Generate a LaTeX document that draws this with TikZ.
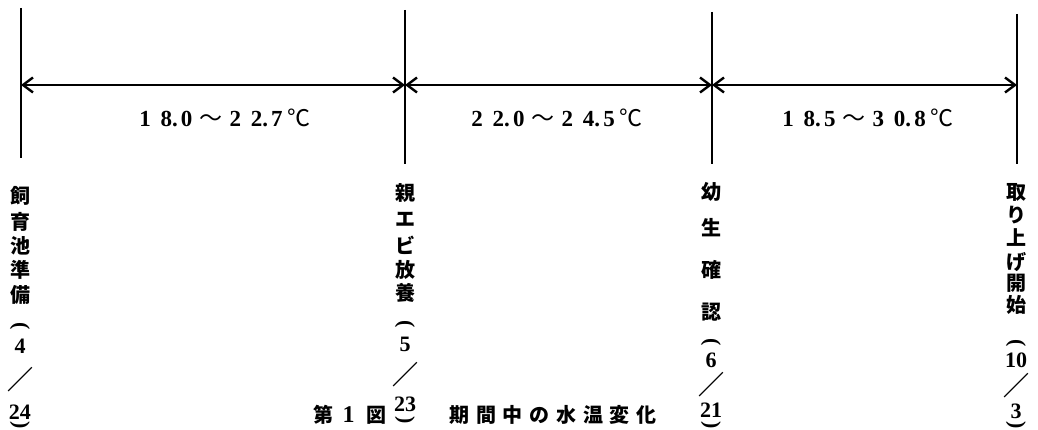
\documentclass[tikz,border=0pt]{standalone}
\usepackage{fontspec}
\setmainfont{Liberation Serif}
\newfontfamily\jp{Noto Sans CJK JP}
\usetikzlibrary{arrows.meta}
\newcommand\capsp{\hspace{6.7pt}}
\newcommand\tgap[1]{\hspace{#1pt}}
\begin{document}
\begin{tikzpicture}[x=1pt,y=-1pt,
  post/.style={line width=2.6pt},
  barb/.tip={Straight Barb[length=10pt,width=15pt,line width=2.4pt]},
  span/.style={line width=2.6pt,barb-barb},
  jc/.style={font=\jp\bfseries\fontsize{20}{20}\selectfont,inner sep=0pt},
  num/.style={font=\bfseries\fontsize{22}{22}\selectfont,inner sep=0pt},
  par/.style={font=\bfseries\fontsize{22}{22}\selectfont,inner sep=0pt,rotate=-90},
  sl/.style={font=\jp\bfseries\fontsize{26}{26}\selectfont,inner sep=0pt},
  temp/.style={font=\bfseries\fontsize{23}{23}\selectfont,inner sep=0pt}]
\useasboundingbox (0,0) rectangle (1038,430);
% posts
\coordinate (t1) at (21,8);    \coordinate (b1) at (21,158);
\coordinate (t2) at (405,10);  \coordinate (b2) at (405,164);
\coordinate (t3) at (712,12);  \coordinate (b3) at (712,164);
\coordinate (t4) at (1017,14); \coordinate (b4) at (1017,164);
\foreach \i in {1,2,3,4} \draw[post] (t\i) -- (b\i);
% spans
\coordinate (m1) at (21,85);
\coordinate (m2) at (405,85);
\coordinate (m3) at (712,85);
\coordinate (m4) at (1017,85);
\draw[span] (m1) -- (m2);
\draw[span] (m2) -- (m3);
\draw[span] (m3) -- (m4);
% temperatures
\node[temp] (T1) at (225,118) {1\tgap{10}8.\tgap{3}0\tgap{7}{\jp\mdseries ～}\tgap{7}2\tgap{10}2.\tgap{3}7\tgap{5}{\jp\mdseries ℃}};
\node[temp] (T2) at (557,118) {2\tgap{10}2.\tgap{3}0\tgap{7}{\jp\mdseries ～}\tgap{7}2\tgap{10}4.\tgap{3}5\tgap{5}{\jp\mdseries ℃}};
\node[temp] (T3) at (868,118) {1\tgap{10}8.\tgap{3}5\tgap{7}{\jp\mdseries ～}\tgap{7}3\tgap{10}0.\tgap{3}8\tgap{5}{\jp\mdseries ℃}};
% column 1
\foreach \y/\t [count=\i] in {196/飼,222/育,246/池,270/準,295/備}
  \node[jc] (a\i) at (20,\y) {\t};
\node[par] (a6) at (20,326) {(};
\node[num] (a7) at (20,346) {4};
\node[sl] (a8) at (20,380) {／};
\node[num] (a9) at (20,412) {24};
\node[par] (a10) at (20,425) {)};
% column 2
\foreach \y/\t [count=\i] in {193/親,219/エ,245/ビ,270/放,293/養}
  \node[jc] (b\i) at (405,\y) {\t};
\node[par] (b6) at (405,324) {(};
\node[num] (b7) at (405,344) {5};
\node[sl] (b8) at (405,375) {／};
\node[num] (b9) at (405,404) {23};
\node[par] (b10) at (405,420) {)};
% column 3
\foreach \y/\t [count=\i] in {192/幼,228/生,270/確,312/認}
  \node[jc] (c\i) at (711,\y) {\t};
\node[par] (c6) at (711,342) {(};
\node[num] (c7) at (711,360) {6};
\node[sl] (c8) at (711,385) {／};
\node[num] (c9) at (711,410) {21};
\node[par] (c10) at (711,425) {)};
% column 4
\foreach \y/\t [count=\i] in {192/取,215/り,238/上,262/げ,283/開,305/始}
  \node[jc] (d\i) at (1016,\y) {\t};
\node[par] (d7) at (1016,343) {(};
\node[num] (d8) at (1016,360) {10};
\node[sl] (d9) at (1016,386) {／};
\node[num] (d10) at (1016,411) {3};
\node[par] (d11) at (1016,425) {)};
% caption
\node[jc] (cap1) at (350,415) {第\hspace{9pt}{\rmfamily\fontsize{24}{24}\selectfont 1}\hspace{12pt}図};
\node[jc] (cap2) at (553,415) {期\capsp 間\capsp 中\capsp の\capsp 水\capsp 温\capsp 変\capsp 化};
\end{tikzpicture}
\end{document}
